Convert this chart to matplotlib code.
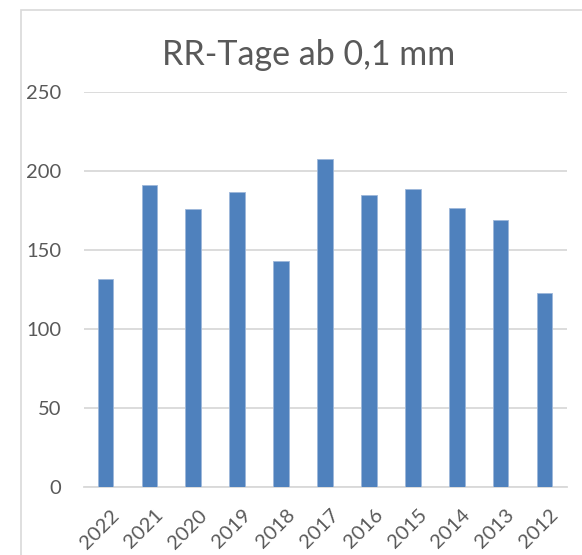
import matplotlib.pyplot as plt
from matplotlib.patches import Rectangle
from matplotlib.transforms import ScaledTranslation

# RR-Tage (Niederschlagstage) je Jahr
years = ['2022', '2021', '2020', '2019', '2018', '2017', '2016', '2015', '2014', '2013', '2012']
days = [132, 191, 176, 187, 143, 208, 185, 189, 177, 169, 123]
yticks = [0, 50, 100, 150, 200, 250]

plt.rcParams['font.family'] = ['Lato', 'DejaVu Sans']
text_color = '#595959'
grid_color = '#D9D9D9'

fig = plt.figure(figsize=(5.82, 5.55), dpi=100)
W, H = 582, 555

# chart border (cropped at right and bottom like in the original)
fig.patches.append(Rectangle((21 / W, -0.1), 2.0, (H - 10) / H + 0.1,
                             transform=fig.transFigure, fill=False,
                             edgecolor=grid_color, linewidth=1.2))

ax = fig.add_axes([83.5 / W, 68 / H, 483 / W, (487 - 92.3) / H])
x = range(len(years))
ax.bar(x, days, width=0.355, color='#4F81BD', edgecolor='#9DB7DA', linewidth=0.6, zorder=3)

ax.set_xlim(-0.5, len(years) - 0.5)
ax.set_ylim(0, 250)
ax.set_yticks(yticks)
ax.yaxis.grid(True, color=grid_color, linewidth=1.3, zorder=0)
ax.set_axisbelow(True)

for s in ['top', 'right', 'left']:
    ax.spines[s].set_visible(False)
ax.spines['bottom'].set_color(grid_color)
ax.spines['bottom'].set_linewidth(1.3)

ax.tick_params(axis='y', length=0, pad=16, labelsize=14.5, labelcolor=text_color)
ax.tick_params(axis='x', length=0, pad=14, labelsize=14.5, labelcolor=text_color)
ax.set_xticks(list(x))
ax.set_xticklabels(years, rotation=45, ha='right', rotation_mode='anchor', va='top')
# shift year labels a little to the right, like Excel does
shift = ScaledTranslation(0.05, 0, fig.dpi_scale_trans)
for lab in ax.get_xticklabels():
    lab.set_transform(lab.get_transform() + shift)

fig.text(309 / W, 1 - 55 / H, 'RR-Tage ab 0,1 mm', ha='center', va='center',
         fontsize=24.5, color=text_color)

fig.savefig('out.png', dpi=100)
